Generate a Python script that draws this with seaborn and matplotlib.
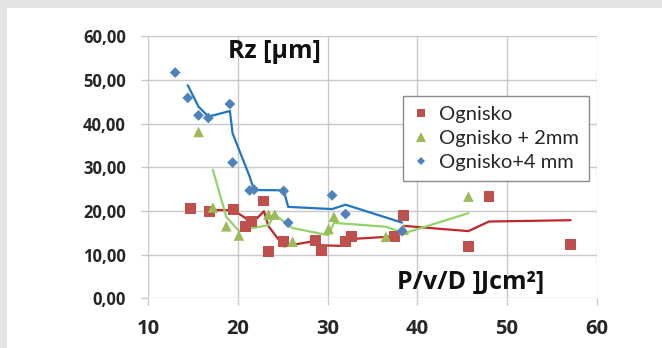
import numpy as np
import pandas as pd
import matplotlib
matplotlib.use("Agg")
import matplotlib.pyplot as plt
import seaborn as sns
from matplotlib.patches import Rectangle

# ---- data ----
red_x = [14.7, 16.8, 19.5, 20.8, 21.5, 22.9, 23.4, 25.1, 28.6, 29.3, 32.0, 32.7, 37.5, 38.5, 45.7, 48.0, 57.1]
red_y = [20.5, 20.0, 20.4, 16.5, 17.6, 22.3, 10.8, 13.0, 13.3, 11.0, 13.0, 14.2, 14.2, 19.0, 11.8, 23.4, 12.4]

green_x = [15.6, 17.2, 18.7, 20.1, 23.4, 24.1, 26.1, 30.1, 30.7, 36.5, 38.5, 45.7]
green_y = [38.1, 20.8, 16.5, 14.4, 19.2, 19.2, 13.0, 15.9, 18.7, 14.1, 15.7, 23.3]

blue_x = [13.0, 14.4, 15.6, 16.7, 19.1, 19.4, 21.3, 21.8, 25.1, 25.6, 30.5, 32.0, 38.3]
blue_y = [51.7, 45.9, 41.9, 41.3, 44.5, 31.1, 24.7, 24.9, 24.6, 17.3, 23.6, 19.3, 15.4]

series_names = ["Ognisko", "Ognisko + 2mm", "Ognisko+4 mm"]
x_ticks = [10, 20, 30, 40, 50, 60]
y_ticks = [0, 10, 20, 30, 40, 50, 60]
y_tick_labels = ["0,00", "10,00", "20,00", "30,00", "40,00", "50,00", "60,00"]

marker_colors = ["#c0504d", "#9bbb59", "#4f81bd"]
line_colors = ["#c0262b", "#92d36a", "#1f77c4"]
markers = ["s", "^", "D"]
msizes = [62, 58, 30]

frames = []
for name, xs, ys in zip(series_names, [red_x, green_x, blue_x], [red_y, green_y, blue_y]):
    d = pd.DataFrame({"x": xs, "y": ys})
    d["series"] = name
    d = d.sort_values("x").reset_index(drop=True)
    # 2-period moving average trendline (as in the original spreadsheet chart)
    d["trend"] = d["y"].rolling(2).mean()
    frames.append(d)
df = pd.concat(frames, ignore_index=True)

sns.set_theme(style="white")
plt.rcParams["font.family"] = ["Open Sans", "DejaVu Sans"]

fig = plt.figure(figsize=(6.62, 3.48), dpi=100)
fig.patch.set_facecolor("#e4e4e4")
bg = fig.add_axes([7 / 662, 0, 1 - 7 / 662, (348 - 8) / 348], zorder=-5)
bg.set_facecolor("white")
bg.set_xticks([])
bg.set_yticks([])
for s in bg.spines.values():
    s.set_visible(False)

ax = fig.add_axes([148.3 / 662, (348 - 298.4) / 348, 448.3 / 662, 262.1 / 348], zorder=1)
ax.set_facecolor("none")

for name, lc in zip(series_names, line_colors):
    d = df[df["series"] == name].dropna(subset=["trend"])
    sns.lineplot(data=d, x="x", y="trend", ax=ax, color=lc, linewidth=1.6,
                 sort=False, estimator=None, legend=False, zorder=2)

handles = []
for name, mc, mk, ms in zip(series_names, marker_colors, markers, msizes):
    d = df[df["series"] == name]
    sns.scatterplot(data=d, x="x", y="y", ax=ax, color=mc, marker=mk, s=ms,
                    edgecolor="none", linewidth=0, legend=False, zorder=3)
    handles.append(plt.Line2D([], [], linestyle="none", marker=mk, color=mc,
                              markersize={"s": 6, "^": 6.5, "D": 4.5}[mk], markeredgewidth=0))

ax.set_xlim(10, 60)
ax.set_ylim(0, 60)
ax.set_xticks(x_ticks)
ax.set_xticklabels([str(v) for v in x_ticks], fontsize=14.5, fontweight="bold")
ax.set_yticks(y_ticks)
ax.set_yticklabels(y_tick_labels, fontsize=12, fontweight="bold")
ax.grid(True, color="#c9c9cc", linewidth=1.0)
ax.set_axisbelow(True)
for s in ax.spines.values():
    s.set_visible(False)
ax.tick_params(axis="both", which="major", length=5, width=1, color="#c9c9cc",
               direction="out", left=True, bottom=True)
ax.tick_params(axis="y", pad=11)
ax.tick_params(axis="x", pad=10)
ax.set_xlabel("")
ax.set_ylabel("")

ax.text(18.9, 56.6, "Rz [µm]", fontsize=18, fontweight="bold", ha="left", va="center", color="#111111")
ax.text(46.0, 3.6, "P/v/D ]Jcm²]", fontsize=18, fontweight="bold", ha="center", va="center", color="#111111")

leg = ax.legend(handles, series_names, loc="upper left", bbox_to_anchor=(0.5675, 0.7734),
                frameon=True, fancybox=False, framealpha=1, edgecolor="#8c8c8c",
                prop={"family": "Lato", "size": 14.5}, handlelength=0.8, handletextpad=0.5,
                labelspacing=0.35, borderpad=0.5, borderaxespad=0)
leg.get_frame().set_linewidth(1.0)

fig.savefig("out.png", dpi=100, facecolor=fig.get_facecolor())
